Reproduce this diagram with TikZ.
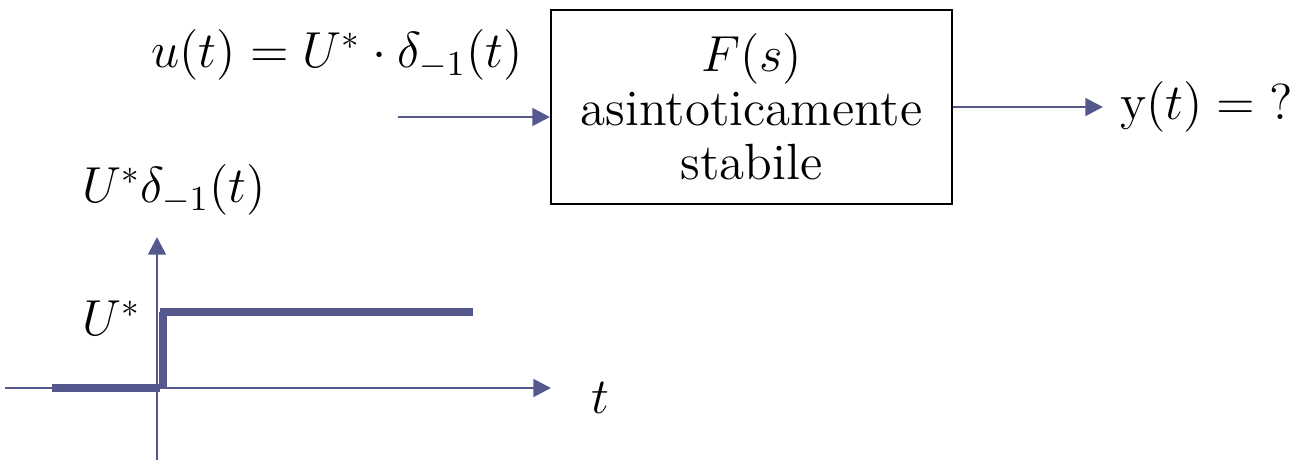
\documentclass[tikz,border=0pt]{standalone}
\usetikzlibrary{positioning, arrows.meta, calc}
\definecolor{sigblue}{RGB}{85,88,140}

\begin{document}
\begin{tikzpicture}[
    >={Triangle[length=5pt,width=5pt]},
    font=\fontsize{14.5}{15.4}\selectfont,
    sig/.style={sigblue, line width=0.8pt},
    stepline/.style={sigblue, line width=2pt},
    blockbox/.style={draw, line width=0.6pt, minimum width=4.01cm, minimum height=1.94cm, align=center}
]
    \useasboundingbox (0,0) rectangle (12.98,4.61);

    % --- 1. block ---
    \node [blockbox] (plant) at (7.515,3.54) {$F(s)$\\asintoticamente\\stabile};

    % --- 2. input / output ---
    \coordinate (uin) at (3.98,3.44);
    \draw [sig, ->] (uin) -- (uin -| plant.west);
    \node (ulabel) at (3.37,4.06) {$u(t) = U^{*}\cdot\delta_{-1}(t)$};

    \coordinate (yout) at (11.03,3.54);
    \draw [sig, ->] (plant.east) -- (yout);
    \node [right=0.05cm of yout] (ylabel) {$\mathrm{y}(t) = {?}$};

    % --- 3. axes ---
    \coordinate (xl) at (0.05,0.73);
    \coordinate (xr) at (5.51,0.73);
    \coordinate (yb) at (1.57,0.01);
    \coordinate (yt) at (1.57,2.24);
    \draw [sig, ->] (xl) -- (xr);
    \draw [sig, ->] (yb) -- (yt);
    \node (tlabel) at (6.0,0.63) {$t$};
    \node (axlabel) at (1.74,2.71) {$U^{*}\delta_{-1}(t)$};

    % --- 4. step ---
    \draw [stepline] (0.52,0.73) -- (1.60,0.73);
    \draw [stepline] (1.63,0.73) -- (1.63,1.49);
    \draw [stepline] (1.60,1.49) -- (4.73,1.49);
    \node (ustar) at (1.12,1.43) {$U^{*}$};
\end{tikzpicture}
\end{document}
